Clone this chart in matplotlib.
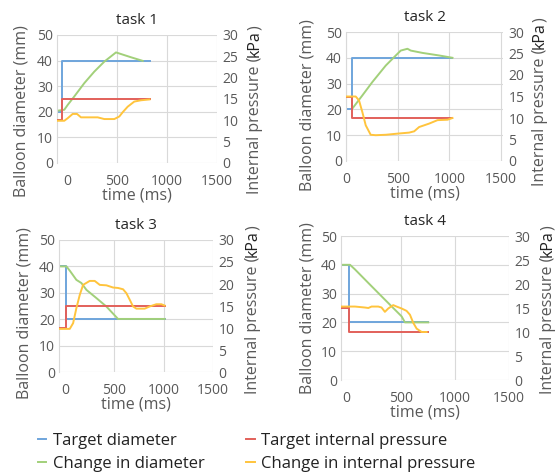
import matplotlib
matplotlib.use('Agg')
import matplotlib.pyplot as plt
from matplotlib.lines import Line2D

plt.rcParams['font.family'] = ['Open Sans', 'DejaVu Sans']

BLUE = '#6FA5DC'
RED = '#E2605A'
GREEN = '#A2D07A'
YELLOW = '#FFC43D'
GRID = '#D9D9D9'
TXT = '#595959'

W, H = 560, 475

# task 1 (time in ms, diameter in mm, pressure in kPa)
t1_target = [-100, -50, -50, 825]
d1_target = [20, 20, 40, 40]
p1_target = [10, 10, 15, 15]
t1_diam = [-100, -27, 7, 73, 173, 273, 373, 490, 640, 757]
d1_diam = [20.4, 20.8, 22.7, 26, 31.2, 35.7, 39.6, 43.2, 41.3, 39.9]
t1_press = [-100, -27, 7, 57, 100, 140, 173, 307, 373, 473, 523, 557, 607, 673, 740, 825]
p1_press = [9.9, 9.9, 10.5, 11.5, 11.5, 10.7, 10.7, 10.7, 10.3, 10.3, 10.9, 11.9, 13.2, 14.4, 14.7, 14.9]

# task 2
t2_target = [0, 61, 61, 1031]
d2_target = [20, 20, 40, 40]
p2_target = [15, 15, 10, 10]
t2_diam = [61, 158, 255, 385, 482, 530, 595, 627, 740, 902, 1031]
d2_diam = [20.3, 25.4, 30.6, 37, 40.9, 42.8, 43.5, 42.8, 41.9, 40.9, 40]
t2_press = [0, 94, 126, 158, 191, 239, 288, 385, 514, 611, 660, 708, 805, 886, 983, 1031]
p2_press = [15, 15, 14.1, 11.4, 8.3, 6.1, 6.0, 6.1, 6.4, 6.6, 6.9, 7.9, 8.7, 9.5, 9.6, 10]

# task 3
t3_target = [-60, 15, 15, 1010]
d3_target = [40, 40, 20, 20]
p3_target = [10, 10, 15, 15]
t3_diam = [-60, 15, 49, 116, 167, 218, 319, 420, 538, 1010]
d3_diam = [40, 40, 38.4, 34.9, 33.7, 31.1, 28, 24.8, 20.1, 20.1]
t3_press = [-60, 49, 83, 116, 150, 184, 251, 302, 353, 420, 488, 538, 589, 623, 657,
            690, 724, 808, 859, 926, 977, 1010]
p3_press = [9.8, 9.8, 11.1, 14.5, 17.5, 19.8, 20.7, 20.7, 19.8, 19.7, 19.2, 19.1, 18.8,
            17.9, 16.4, 14.9, 14.4, 14.4, 14.9, 15.4, 15.4, 15.1]

# task 4
t4_target = [-50, 24, 24, 755]
d4_target = [40, 40, 20, 20]
p4_target = [15, 15, 10, 10]
t4_diam = [-50, 33, 79, 202, 355, 509, 540, 755]
d4_diam = [40, 40, 38.4, 33.7, 27.9, 22.1, 20, 20]
t4_press = [-50, 18, 79, 171, 202, 232, 294, 324, 355, 386, 432, 463, 509, 555, 586,
            617, 648, 694, 740]
p4_press = [15.3, 15.3, 15.3, 15.1, 15.0, 15.3, 15.3, 15.1, 14.2, 14.9, 15.6, 15.3, 14.9,
            14.4, 13.6, 11.9, 10.7, 10.0, 10.0]

titles = ['task 1', 'task 2', 'task 3', 'task 4']
x_ticks = [0, 500, 1000, 1500]
legend_labels = ['Target diameter', 'Change in diameter',
                 'Target internal pressure', 'Change in internal pressure']

tasks = [
    (t1_target, d1_target, p1_target, t1_diam, d1_diam, t1_press, p1_press),
    (t2_target, d2_target, p2_target, t2_diam, d2_diam, t2_press, p2_press),
    (t3_target, d3_target, p3_target, t3_diam, d3_diam, t3_press, p3_press),
    (t4_target, d4_target, p4_target, t4_diam, d4_diam, t4_press, p4_press),
]

# layout in pixels: left, top, right, bottom of plot box
boxes = [(57, 35, 217, 163), (346, 32, 503, 161), (59, 240, 213, 372), (341, 236, 509, 380)]
xlims = [(-100, 1500), (0, 1520), (-60, 1500), (-50, 1500)]
left_lab = [(22, 111), (308, 105), (25, 313), (308, 308)]
right_lab = [(255, 110), (540, 102), (253, 310), (548, 310)]

fig = plt.figure(figsize=(W / 100, H / 100), dpi=100)
renderer = fig.canvas.get_renderer()


def fx(px):
    return px / W


def fy(py):
    return 1 - py / H


for i, (tt, dt, pt, td, dd, tp, pp) in enumerate(tasks):
    l, t, r, b = boxes[i]
    ax = fig.add_axes([fx(l), fy(b), (r - l) / W, (b - t) / H])
    ax.plot(tt, dt, color=BLUE, lw=1.4)
    ax.plot(td, dd, color=GREEN, lw=1.4)
    ax.set_xlim(*xlims[i])
    ax.set_ylim(0, 50)
    ax.set_xticks(x_ticks)
    ax.set_yticks(range(0, 51, 10))
    ax.grid(color=GRID, lw=0.8)
    if xlims[i][0] < 0:
        ax.get_xgridlines()[0].set_visible(False)
    for s in ['top', 'right', 'bottom']:
        ax.spines[s].set_visible(False)
    ax.spines['left'].set_color(GRID)
    ax.tick_params(length=0, labelsize=10, labelcolor=TXT)
    ax.tick_params(axis='x', pad=8)
    ax.tick_params(axis='y', pad=3)
    ax.set_xlabel('time (ms)', fontsize=11.5, color=TXT, labelpad=-1)
    ax.set_title(titles[i], fontsize=11, color='#262626', pad=8)

    ax2 = ax.twinx()
    ax2.plot(tt, pt, color=RED, lw=1.4)
    ax2.plot(tp, pp, color=YELLOW, lw=1.4)
    ax2.set_ylim(0, 30)
    ax2.set_yticks(range(0, 31, 5))
    for s in ax2.spines.values():
        s.set_visible(False)
    ax2.tick_params(length=0, labelsize=10, labelcolor=TXT, pad=4)

    # axis titles
    lx, ly = left_lab[i]
    fig.text(fx(lx), fy(ly), 'Balloon diameter (mm)', rotation=90, ha='center',
             va='center', fontsize=11.5, color=TXT)
    rx, ry = right_lab[i]
    p1 = fig.text(0, 0, 'Internal pressure (', rotation=90, fontsize=11.5, color=TXT,
                  ha='center', va='bottom')
    p2 = fig.text(0, 0, 'kPa', rotation=90, fontsize=11.5, color='#222222',
                  ha='center', va='bottom')
    p3 = fig.text(0, 0, ')', rotation=90, fontsize=11.5, color=TXT,
                  ha='center', va='bottom')
    hs = [p.get_window_extent(renderer).height for p in (p1, p2, p3)]
    y0 = fy(ry) * H - sum(hs) / 2
    for p, h in zip((p1, p2, p3), hs):
        p.set_position((fx(rx), y0 / H))
        y0 += h

handles = [Line2D([], [], color=c, lw=1.4) for c in (BLUE, GREEN, RED, YELLOW)]
fig.legend(handles, legend_labels, ncol=2, loc='upper left', bbox_to_anchor=(fx(23), fy(418)),
           frameon=False, fontsize=12, handlelength=0.5, handletextpad=0.4,
           columnspacing=2.5, labelspacing=0.4, labelcolor='#222222')

fig.savefig('out.png', dpi=100)
